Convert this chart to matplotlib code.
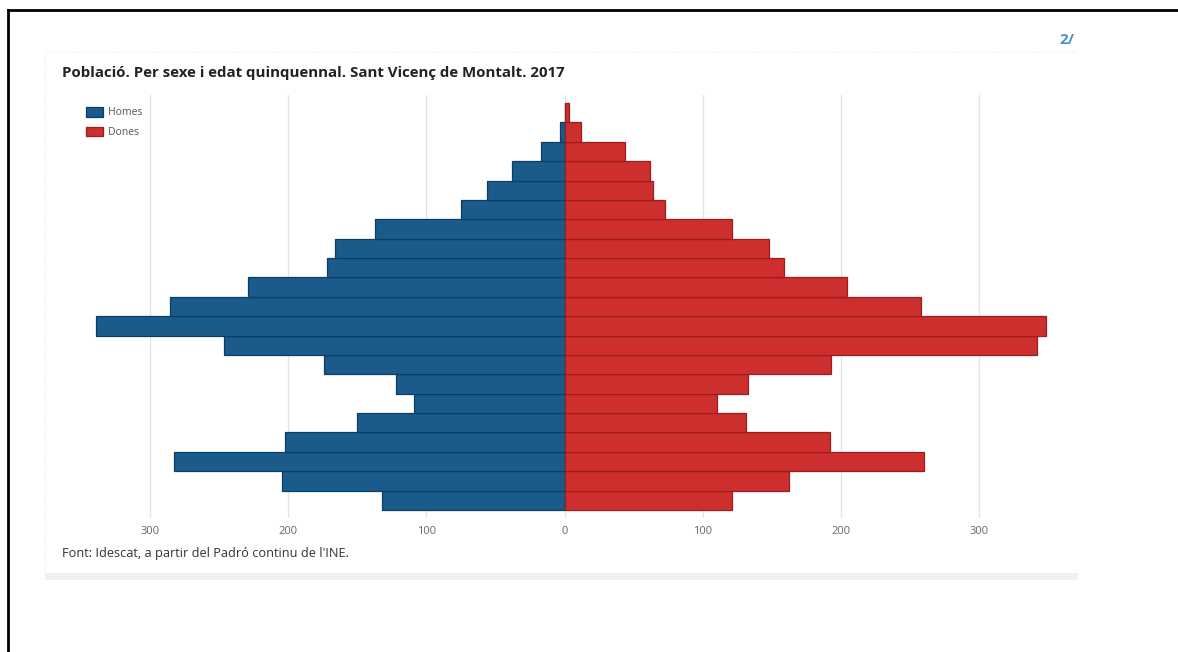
import matplotlib
matplotlib.use("Agg")
import matplotlib.pyplot as plt
from matplotlib.patches import Rectangle
from matplotlib.lines import Line2D

# Age groups, youngest first (bottom of pyramid)
age_groups = ["0-4", "5-9", "10-14", "15-19", "20-24", "25-29", "30-34", "35-39",
              "40-44", "45-49", "50-54", "55-59", "60-64", "65-69", "70-74", "75-79",
              "80-84", "85-89", "90-94", "95-99", "100+"]
homes = [132, 204, 282, 202, 150, 109, 122, 174, 246, 339, 285, 229, 172, 166, 137,
         75, 56, 38, 17, 3, 0]
dones = [121, 162, 260, 192, 131, 110, 133, 193, 342, 348, 258, 204, 159, 148, 121,
         73, 64, 62, 44, 12, 3]
xticks = [-300, -200, -100, 0, 100, 200, 300]
xtick_labels = ["300", "200", "100", "0", "100", "200", "300"]

W, H = 1178, 652
fig = plt.figure(figsize=(W / 100, H / 100), dpi=100)
fig.patch.set_facecolor("white")

def fx(px):
    return px / W

def fy(py):
    return 1 - py / H

# outer black frame (top + left only)
fig.add_artist(Line2D([fx(8), fx(1178)], [fy(10), fy(10)], color="black", lw=2))
fig.add_artist(Line2D([fx(8), fx(8)], [fy(10), fy(652)], color="black", lw=2))

# faint panel outline
fig.add_artist(Line2D([fx(45), fx(1078)], [fy(52), fy(52)], color="#e9e9e9", lw=0.8, ls=(0, (1, 2))))
fig.add_artist(Line2D([fx(45), fx(45)], [fy(52), fy(575)], color="#e9e9e9", lw=0.8, ls=(0, (1, 2))))
fig.add_artist(Rectangle((fx(45), fy(580)), fx(1078) - fx(45), fy(573) - fy(580),
                         transform=fig.transFigure, facecolor="#f0f0f0", edgecolor="none"))

# "2/" marker
fig.text(fx(1059), fy(40), "2/", color="#4a8fc9", fontsize=11, fontweight="bold",
         family="Open Sans", va="center", ha="left")

# Title
fig.text(fx(62), fy(73), "Població. Per sexe i edat quinquennal. Sant Vicenç de Montalt. 2017",
         fontsize=10.8, fontweight="bold", family="Open Sans", color="#222222",
         va="center", ha="left")

# Axes
ax_left, ax_right, ax_top, ax_bot = 48, 1078, 95, 518
ax = fig.add_axes([fx(ax_left), fy(ax_bot), fx(ax_right) - fx(ax_left), fy(ax_top) - fy(ax_bot)])
scale = 1.383  # px per unit
zero_px = 564.5
ax.set_xlim(-(zero_px - ax_left) / scale, (ax_right - zero_px) / scale)
row_px = (510 - 103) / 21
ax.set_ylim(-0.5 - (ax_bot - 510) / row_px, 20.5 + (103 - ax_top) / row_px)

y = list(range(len(age_groups)))
ax.barh(y, [-v for v in homes], height=1.0, color="#1a5b8b", edgecolor="#0e3d63",
        linewidth=0.9, label="Homes", zorder=3)
ax.barh(y, dones, height=1.0, color="#cd2f2f", edgecolor="#9e1c1c",
        linewidth=0.9, label="Dones", zorder=3)

ax.set_xticks(xticks)
ax.set_xticklabels(xtick_labels, family="Open Sans", fontsize=8, color="#666666")
ax.tick_params(axis="x", length=0, pad=6)
ax.set_yticks([])
ax.grid(axis="x", color="#e3e3e3", lw=0.9, zorder=0)
for s in ax.spines.values():
    s.set_visible(False)

leg = ax.legend(loc="upper left", bbox_to_anchor=(fx(86), fy(107)),
                bbox_transform=fig.transFigure,
                frameon=False, prop={"family": "Open Sans", "size": 7.5},
                handlelength=1.6, handleheight=1.05, handletextpad=0.55, labelspacing=0.8,
                borderaxespad=0, borderpad=0)
for t in leg.get_texts():
    t.set_color("#555555")

# Source note
fig.text(fx(62), fy(553), "Font: Idescat, a partir del Padró continu de l'INE.",
         fontsize=9.2, family="Open Sans", color="#333333", va="center", ha="left")

fig.savefig("out.png", dpi=100, facecolor="white")
